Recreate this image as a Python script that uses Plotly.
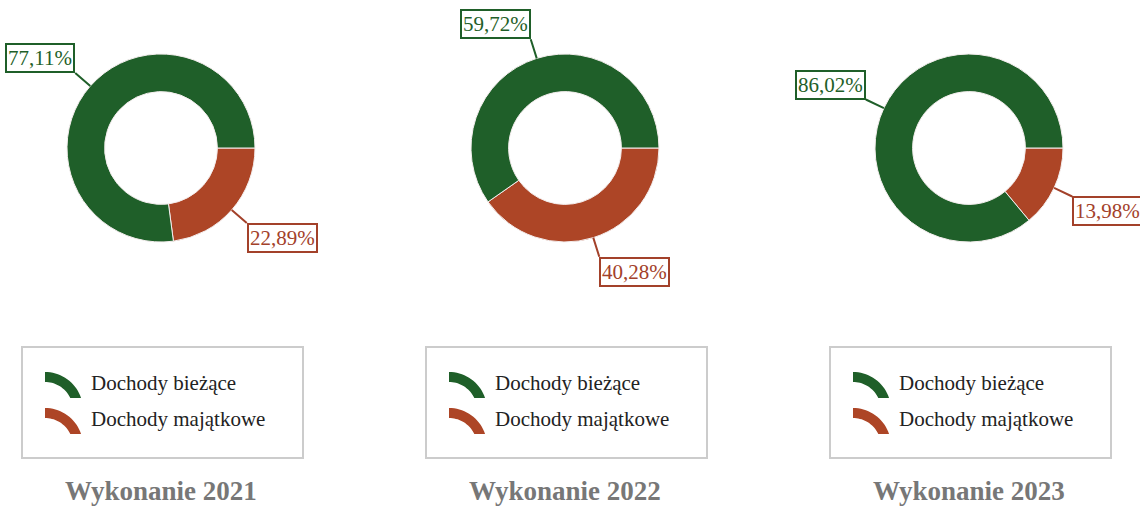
import math
import plotly.graph_objects as go

# ---- data ----
years = ["Wykonanie 2021", "Wykonanie 2022", "Wykonanie 2023"]
categories = ["Dochody bieżące", "Dochody majątkowe"]
biezace = [77.11, 59.72, 86.02]
majatkowe = [22.89, 40.28, 13.98]
colors = ["#1f5f29", "#ad4526"]
label_colors = ["#1f5f29", "#a3412a"]

W, H = 1140, 508
R = 94            # outer radius (px)
CY = 148          # pie centre y (px from top)
centres_x = [161, 565, 969]


def px(x):
    return x / W


def py(y):
    return 1 - y / H


def fmt(v):
    return f"{v:.2f}".replace(".", ",") + "%"


fig = go.Figure()
annotations = []
shapes = []

for i, cx in enumerate(centres_x):
    vals = [biezace[i], majatkowe[i]]
    # order reversed so that "bieżące" runs counter-clockwise from 3 o'clock
    fig.add_trace(go.Pie(
        labels=categories[::-1],
        values=vals[::-1],
        hole=0.6,
        sort=False,
        direction="counterclockwise",
        rotation=90,
        marker=dict(colors=colors[::-1], line=dict(color="#f4eeee", width=1)),
        textinfo="none",
        hoverinfo="label+percent",
        showlegend=False,
        domain=dict(x=[px(cx - R), px(cx + R)], y=[py(CY + R), py(CY - R)]),
    ))

    # data labels with leader lines
    total = sum(vals)
    start = 0.0
    for j, v in enumerate(vals):
        span = v / total * 360
        mid = math.radians(start + span / 2)  # ccw from 3 o'clock
        start += span
        c, s = math.cos(mid), math.sin(mid)
        tipx, tipy = cx + R * c, CY - R * s
        L = 20
        annotations.append(dict(
            x=px(tipx), y=py(tipy), xref="paper", yref="paper",
            text=fmt(v), showarrow=True, arrowhead=0, arrowwidth=2,
            arrowcolor=label_colors[j], ax=L * c, ay=-L * s,
            axref="pixel", ayref="pixel", standoff=0,
            xanchor="right" if c < 0 else "left",
            yanchor="bottom" if s > 0 else "top",
            font=dict(family="Liberation Serif", size=21, color=label_colors[j]),
            bgcolor="white", bordercolor=label_colors[j], borderwidth=2, borderpad=1,
        ))

    # legend box
    shapes.append(dict(type="rect", xref="paper", yref="paper",
                       x0=px(cx - 139), x1=px(cx + 142), y0=py(458), y1=py(347),
                       line=dict(color="#cccccc", width=2), fillcolor="white", layer="below"))
    for j, name in enumerate(categories):
        yc = 383 + 36 * j
        # arc icon: ring segment, centre below-left, flat bottom cut
        ix, iy = cx - 116, yc + 27
        ro, ri = 38, 28
        cut = 12  # height of cut above ring centre
        ao = math.asin(cut / ro)
        ai = math.asin(cut / ri)
        n = 18
        pts = []
        for k in range(n + 1):
            a = math.pi / 2 + (ao - math.pi / 2) * k / n
            pts.append((ix + ro * math.cos(a), iy - ro * math.sin(a)))
        for k in range(n + 1):
            a = ai + (math.pi / 2 - ai) * k / n
            pts.append((ix + ri * math.cos(a), iy - ri * math.sin(a)))
        path = "M " + " L ".join(f"{px(x):.5f},{py(y):.5f}" for x, y in pts) + " Z"
        shapes.append(dict(type="path", xref="paper", yref="paper", path=path,
                           fillcolor=colors[j], line=dict(width=0)))
        annotations.append(dict(
            x=px(cx - 72), y=py(yc), xref="paper", yref="paper", text=name,
            showarrow=False, xanchor="left", yanchor="middle",
            font=dict(family="Liberation Serif", size=21, color="#222222"),
        ))

    # title under each chart
    annotations.append(dict(
        x=px(cx), y=py(H), xref="paper", yref="paper", text=f"<b>{years[i]}</b>",
        showarrow=False, xanchor="center", yanchor="bottom",
        font=dict(family="Liberation Serif", size=27, color="#777777"),
    ))

fig.update_layout(
    width=W, height=H,
    margin=dict(l=0, r=0, t=0, b=0),
    paper_bgcolor="white", plot_bgcolor="white",
    annotations=annotations, shapes=shapes,
    showlegend=False,
)

fig.write_html("out.html", config={"displayModeBar": False},
               post_script="document.body.style.margin='0px';")
